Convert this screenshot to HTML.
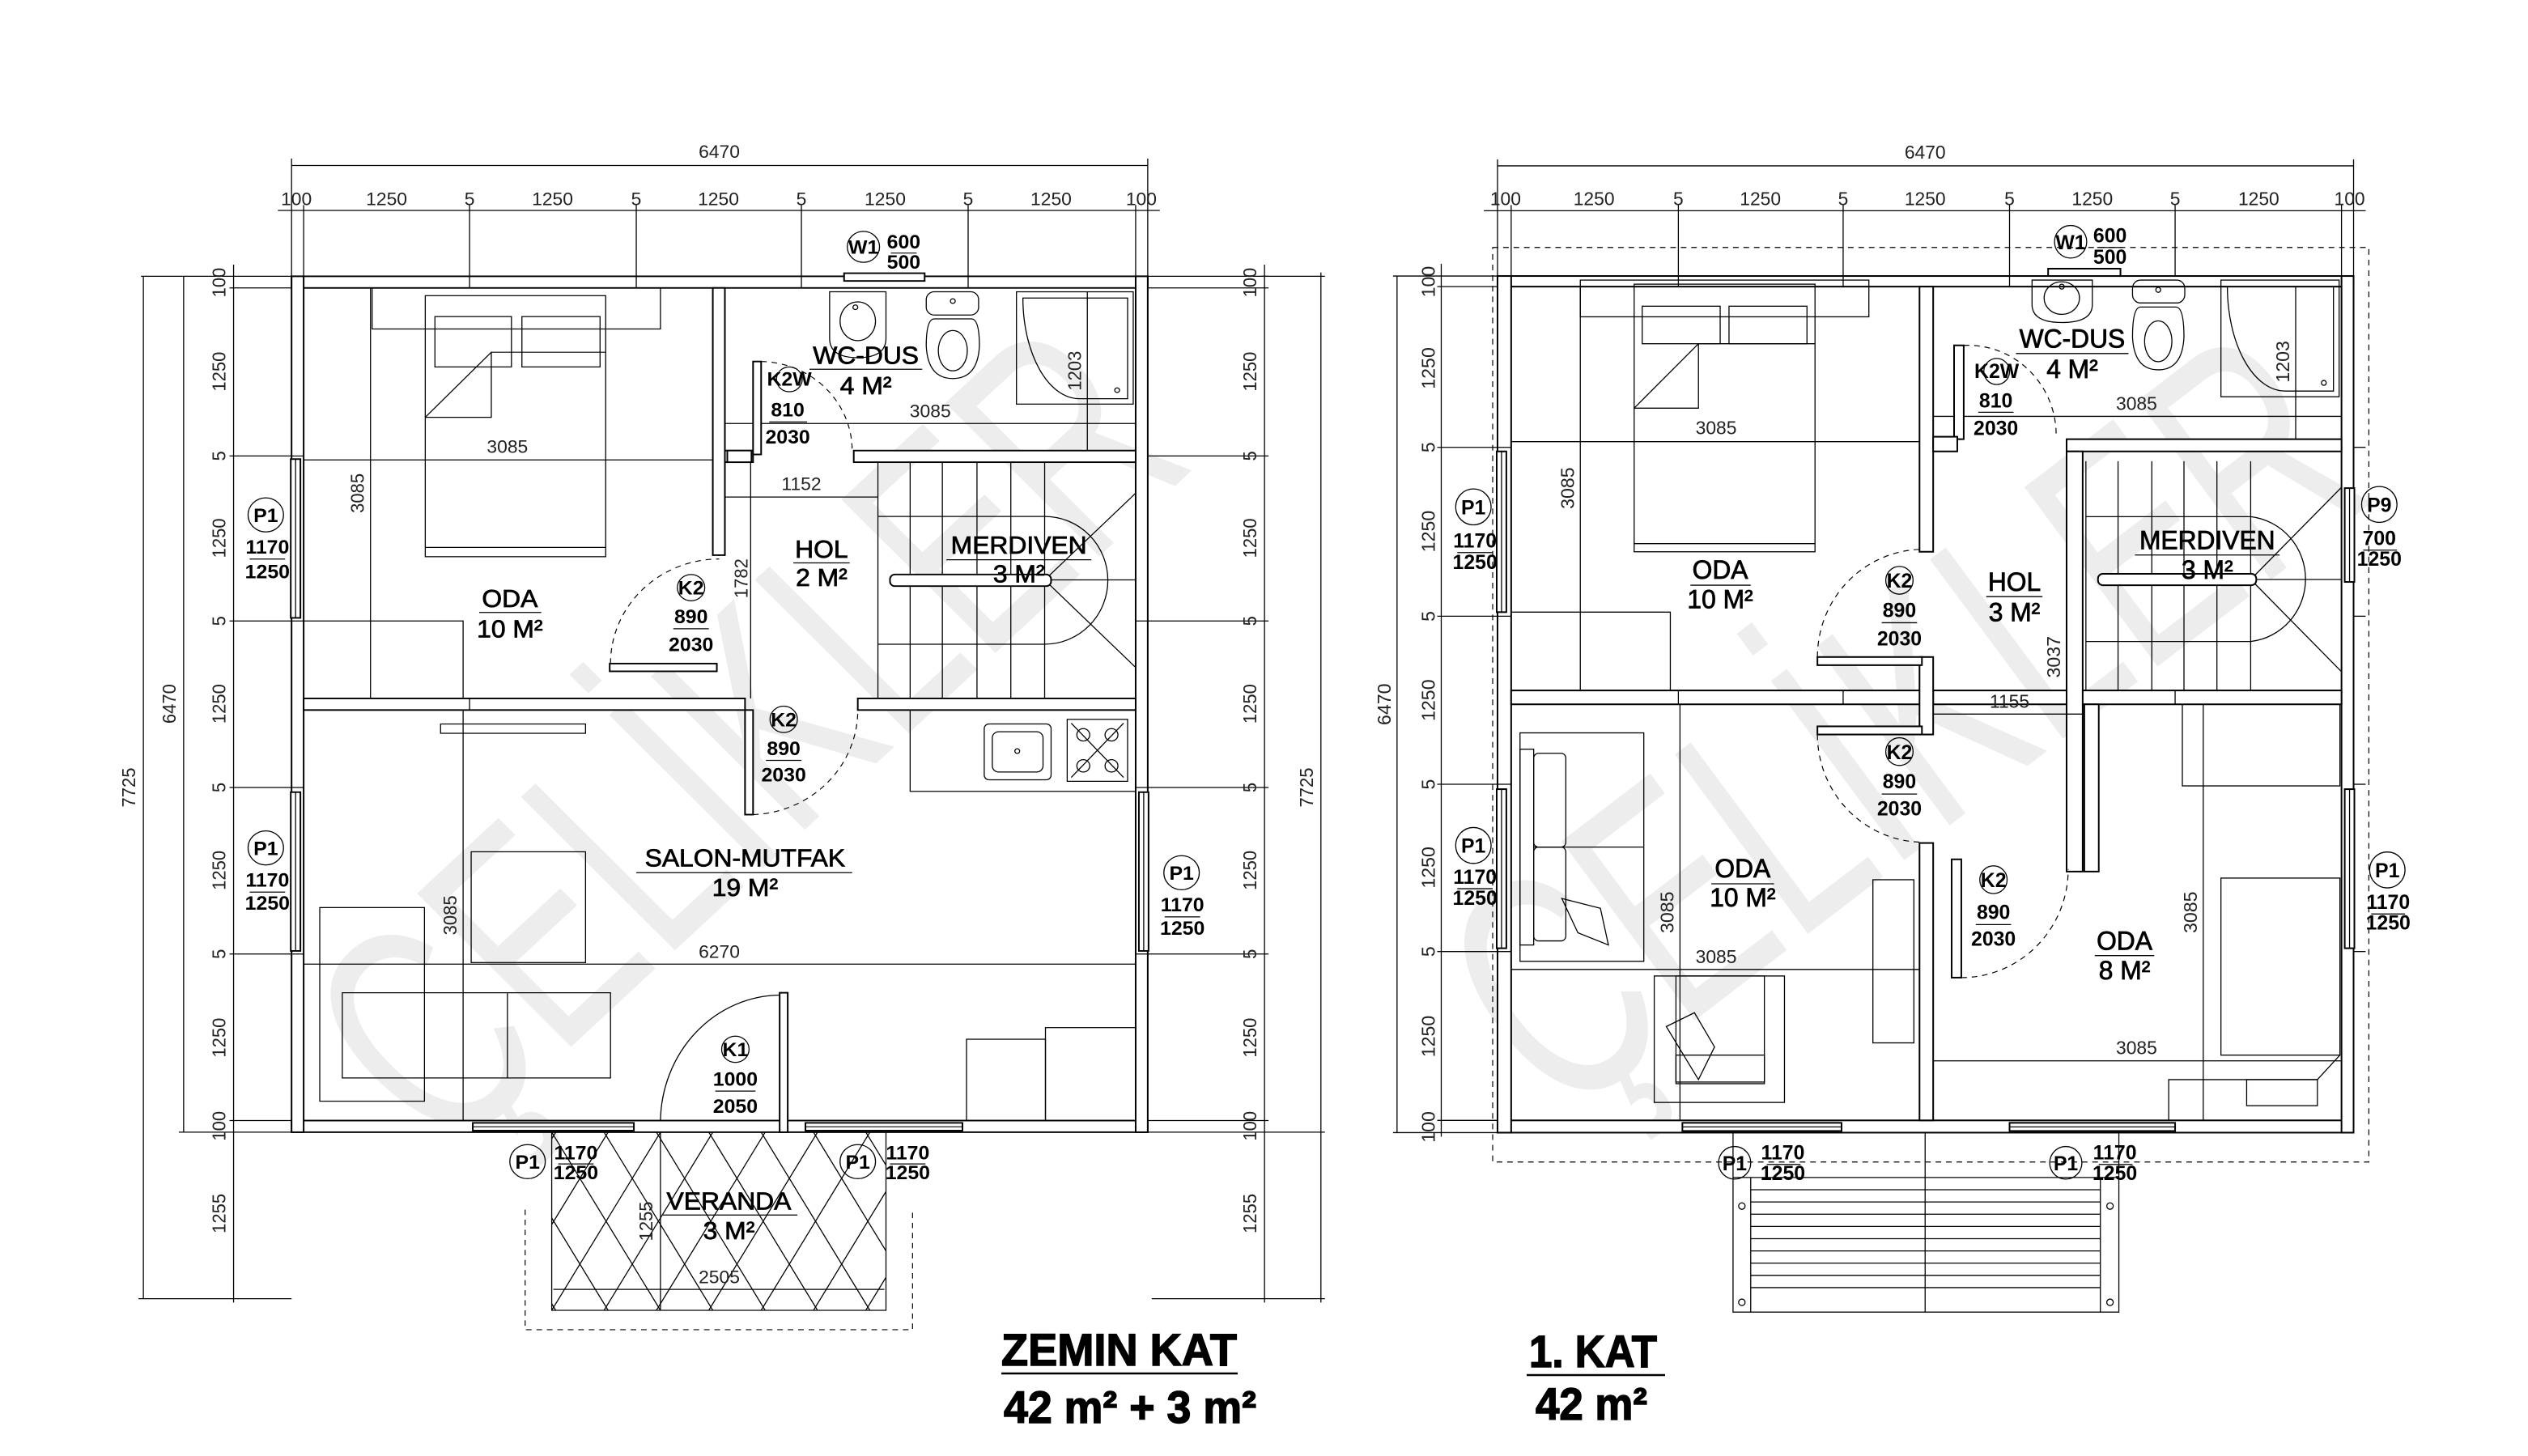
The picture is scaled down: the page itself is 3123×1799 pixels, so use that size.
<!DOCTYPE html>
<html><head><meta charset="utf-8">
<style>
html,body{margin:0;padding:0;background:#fff;}
svg{display:block;}
.l{stroke:#000;stroke-width:1.3;fill:none;}
.w{stroke:#000;stroke-width:2;fill:#fff;}
.d{stroke:#000;stroke-width:1.2;fill:none;stroke-dasharray:7 6;}
.dim{font-family:"Liberation Sans",sans-serif;font-size:23px;fill:#222;text-anchor:middle;font-weight:normal;}
.rm{font-family:"Liberation Sans",sans-serif;font-size:32px;fill:#000;text-anchor:middle;stroke:#000;stroke-width:0.8;}
.dl{font-family:"Liberation Sans Narrow","Liberation Sans",sans-serif;font-size:25px;fill:#000;text-anchor:middle;font-weight:bold;}
.wm{font-family:"Liberation Sans",sans-serif;font-size:400px;fill:#ededed;}
.ti{font-family:"Liberation Sans Narrow","Liberation Sans",sans-serif;font-weight:bold;fill:#000;stroke:#000;stroke-width:1.5;}
</style></head>
<body>
<svg width="3123" height="1799" viewBox="0 0 3123 1799" xmlns="http://www.w3.org/2000/svg">
<rect width="3123" height="1799" fill="#fff"/>

<!-- ================= LEFT PLAN (ZEMIN KAT) ================= -->
<g transform="translate(0,150) scale(0.995,0.957)">
 <text class="wm" transform="translate(925,794) rotate(-44)" text-anchor="middle" dominant-baseline="central" textLength="1300" lengthAdjust="spacingAndGlyphs">ÇELİKLER</text>

 <!-- top dims -->
 <line class="l" x1="362" y1="57" x2="1425" y2="57"/>
 <text class="dim" x="893" y="47">6470</text>
 <line class="l" x1="362" y1="48" x2="362" y2="215"/><line class="l" x1="1425" y1="48" x2="1425" y2="215"/>
 <line class="l" x1="345" y1="115" x2="1440" y2="115"/>
 <g class="l">
  <line x1="377" y1="108" x2="377" y2="215"/><line x1="583" y1="108" x2="583" y2="215"/><line x1="790" y1="108" x2="790" y2="215"/>
  <line x1="995" y1="108" x2="995" y2="215"/><line x1="1202" y1="108" x2="1202" y2="215"/><line x1="1410" y1="108" x2="1410" y2="215"/>
 </g>
 <g class="dim">
  <text x="368" y="108">100</text><text x="480" y="108">1250</text><text x="583" y="108">5</text><text x="686" y="108">1250</text>
  <text x="790" y="108">5</text><text x="892" y="108">1250</text><text x="995" y="108">5</text><text x="1099" y="108">1250</text>
  <text x="1202" y="108">5</text><text x="1305" y="108">1250</text><text x="1417" y="108">100</text>
 </g>
 <!-- left dims -->
 <g class="l">
  <line x1="175" y1="200" x2="362" y2="200"/><line x1="285" y1="215" x2="362" y2="215"/>
  <line x1="285" y1="432" x2="362" y2="432"/><line x1="285" y1="645" x2="362" y2="645"/>
  <line x1="285" y1="860" x2="362" y2="860"/><line x1="285" y1="1075" x2="362" y2="1075"/>
  <line x1="285" y1="1290" x2="362" y2="1290"/><line x1="222" y1="1305" x2="362" y2="1305"/>
  <line x1="172" y1="1520" x2="362" y2="1520"/>
  <line x1="290" y1="185" x2="290" y2="1525"/><line x1="228" y1="200" x2="228" y2="1305"/><line x1="178" y1="200" x2="178" y2="1520"/>
 </g>
 <g class="dim">
  <text transform="translate(280,208) rotate(-90)">100</text><text transform="translate(280,323) rotate(-90)">1250</text>
  <text transform="translate(280,432) rotate(-90)">5</text><text transform="translate(280,538) rotate(-90)">1250</text>
  <text transform="translate(280,645) rotate(-90)">5</text><text transform="translate(280,752) rotate(-90)">1250</text>
  <text transform="translate(280,860) rotate(-90)">5</text><text transform="translate(280,967) rotate(-90)">1250</text>
  <text transform="translate(280,1075) rotate(-90)">5</text><text transform="translate(280,1183) rotate(-90)">1250</text>
  <text transform="translate(280,1297) rotate(-90)">100</text><text transform="translate(280,1410) rotate(-90)">1255</text>
  <text transform="translate(218,752) rotate(-90)">6470</text><text transform="translate(168,860) rotate(-90)">7725</text>
 </g>
 <!-- right dims -->
 <g class="l">
  <line x1="1425" y1="200" x2="1575" y2="200"/><line x1="1425" y1="215" x2="1575" y2="215"/>
  <line x1="1425" y1="432" x2="1575" y2="432"/><line x1="1425" y1="645" x2="1575" y2="645"/>
  <line x1="1425" y1="860" x2="1575" y2="860"/><line x1="1425" y1="1075" x2="1575" y2="1075"/>
  <line x1="1425" y1="1290" x2="1575" y2="1290"/><line x1="1425" y1="1305" x2="1645" y2="1305"/>
  <line x1="1430" y1="1520" x2="1645" y2="1520"/>
  <line x1="1570" y1="185" x2="1570" y2="1525"/><line x1="1640" y1="195" x2="1640" y2="1525"/>
  <line x1="1565" y1="200" x2="1645" y2="200"/>
 </g>
 <g class="dim">
  <text transform="translate(1560,208) rotate(-90)">100</text><text transform="translate(1560,323) rotate(-90)">1250</text>
  <text transform="translate(1560,432) rotate(-90)">5</text><text transform="translate(1560,538) rotate(-90)">1250</text>
  <text transform="translate(1560,645) rotate(-90)">5</text><text transform="translate(1560,752) rotate(-90)">1250</text>
  <text transform="translate(1560,860) rotate(-90)">5</text><text transform="translate(1560,967) rotate(-90)">1250</text>
  <text transform="translate(1560,1075) rotate(-90)">5</text><text transform="translate(1560,1183) rotate(-90)">1250</text>
  <text transform="translate(1560,1297) rotate(-90)">100</text><text transform="translate(1560,1410) rotate(-90)">1255</text>
  <text transform="translate(1630,860) rotate(-90)">7725</text>
 </g>

 <!-- walls -->
 <rect class="w" x="362" y="200" width="1063" height="15"/>
 <rect class="w" x="362" y="1290" width="1063" height="15"/>
 <rect class="w" x="362" y="200" width="15" height="1105"/>
 <rect class="w" x="1410" y="200" width="15" height="1105"/>
 <rect class="w" x="377" y="745" width="548" height="15"/>
 <rect class="w" x="1065" y="745" width="345" height="15"/>
 <rect class="w" x="885" y="215" width="15" height="345"/>
 <rect class="w" x="900" y="425" width="35" height="15"/>
 <rect class="w" x="1060" y="425" width="350" height="15"/>
 <line class="l" x1="932" y1="440" x2="932" y2="745"/>
 <g class="l"><line x1="583" y1="200" x2="583" y2="215"/><line x1="790" y1="200" x2="790" y2="215"/><line x1="995" y1="200" x2="995" y2="215"/><line x1="1202" y1="200" x2="1202" y2="215"/>
 <line x1="583" y1="745" x2="583" y2="760"/><line x1="362" y1="432" x2="377" y2="432"/><line x1="362" y1="645" x2="377" y2="645"/><line x1="362" y1="860" x2="377" y2="860"/><line x1="362" y1="1075" x2="377" y2="1075"/><line x1="1410" y1="645" x2="1425" y2="645"/><line x1="1410" y1="860" x2="1425" y2="860"/><line x1="1410" y1="1075" x2="1425" y2="1075"/></g>

 <!-- windows -->
 <rect class="w" x="1048" y="196" width="100" height="10"/>
 <circle class="l" cx="1072" cy="162" r="20"/><text class="dl" x="1072" y="171">W1</text>
 <text class="dl" x="1122" y="164" font-size="20">600</text><line class="l" x1="1106" y1="170" x2="1138" y2="170"/><text class="dl" x="1122" y="190" font-size="20">500</text>
 <rect class="w" x="361" y="436" width="12" height="205"/><line class="l" x1="367" y1="436" x2="367" y2="641"/>
 <rect class="w" x="361" y="866" width="12" height="205"/><line class="l" x1="367" y1="866" x2="367" y2="1071"/>
 <rect class="w" x="1414" y="866" width="12" height="205"/><line class="l" x1="1420" y1="866" x2="1420" y2="1071"/>
 <rect class="w" x="587" y="1293" width="200" height="10"/><line class="l" x1="587" y1="1298" x2="787" y2="1298"/>
 <rect class="w" x="1000" y="1293" width="195" height="10"/><line class="l" x1="1000" y1="1298" x2="1195" y2="1298"/>
 <g>
  <circle class="l" cx="330" cy="508" r="22"/><text class="dl" x="330" y="517">P1</text><text class="dl" x="332" y="558">1170</text><line class="l" x1="310" y1="565" x2="354" y2="565"/><text class="dl" x="332" y="590">1250</text>
  <circle class="l" cx="330" cy="938" r="22"/><text class="dl" x="330" y="947">P1</text><text class="dl" x="332" y="988">1170</text><line class="l" x1="310" y1="995" x2="354" y2="995"/><text class="dl" x="332" y="1018">1250</text>
  <circle class="l" cx="1467" cy="970" r="22"/><text class="dl" x="1467" y="979">P1</text><text class="dl" x="1468" y="1020">1170</text><line class="l" x1="1446" y1="1027" x2="1490" y2="1027"/><text class="dl" x="1468" y="1050">1250</text>
  <circle class="l" cx="655" cy="1343" r="22"/><text class="dl" x="655" y="1352">P1</text><text class="dl" x="715" y="1340">1170</text><line class="l" x1="693" y1="1346" x2="737" y2="1346"/><text class="dl" x="715" y="1366">1250</text>
  <circle class="l" cx="1065" cy="1343" r="22"/><text class="dl" x="1065" y="1352">P1</text><text class="dl" x="1127" y="1340">1170</text><line class="l" x1="1105" y1="1346" x2="1149" y2="1346"/><text class="dl" x="1127" y="1366">1250</text>
 </g>

 <!-- ODA furniture -->
 <rect class="l" x="462" y="215" width="358" height="53"/>
 <rect class="l" x="528" y="225" width="224" height="337" fill="#fff"/>
 <line class="l" x1="528" y1="550" x2="752" y2="550"/>
 <rect class="l" x="540" y="252" width="95" height="65"/><rect class="l" x="648" y="252" width="97" height="65"/>
 <polyline class="l" points="528,382 610,382 610,298 752,298"/><line class="l" x1="528" y1="382" x2="610" y2="298"/>
 <polyline class="l" points="377,645 575,645 575,745"/>
 <line class="l" x1="377" y1="437" x2="885" y2="437"/><text class="dim" x="630" y="428">3085</text>
 <line class="l" x1="460" y1="215" x2="460" y2="745"/><text class="dim" transform="translate(452,480) rotate(-90)">3085</text>
 <text class="rm" x="633" y="627">ODA</text><line class="l" x1="595" y1="634" x2="672" y2="634"/><text class="rm" x="633" y="666">10 M²</text>

 <!-- WC -->
 <path class="l" d="M1030,220 H1100 V280 Q1100,305 1065,305 Q1030,305 1030,280 Z"/>
 <ellipse class="l" cx="1065" cy="258" rx="22" ry="25"/><circle class="l" cx="1062" cy="240" r="3"/>
 <rect class="l" x="1150" y="220" width="65" height="30" rx="10"/><circle class="l" cx="1183" cy="232" r="3"/>
 <path class="l" d="M1160,255 Q1150,255 1150,290 Q1152,332 1183,332 Q1214,332 1216,290 Q1216,255 1206,255 Z"/>
 <ellipse class="l" cx="1183" cy="296" rx="18" ry="26"/>
 <rect class="l" x="1262" y="220" width="145" height="145"/>
 <path class="l" d="M1270,228 H1400 V358 H1340 A70,130 0 0 1 1270,228 Z"/><circle class="l" cx="1387" cy="347" r="3"/>
 <line class="l" x1="1350" y1="220" x2="1350" y2="425"/><text class="dim" transform="translate(1342,322) rotate(-90)">1203</text>
 <line class="l" x1="900" y1="390" x2="1410" y2="390"/><text class="dim" x="1155" y="382">3085</text>
 <text class="rm" x="1075" y="313">WC-DUS</text><line class="l" x1="1005" y1="320" x2="1145" y2="320"/><text class="rm" x="1075" y="352">4 M²</text>
 <rect class="w" x="935" y="310" width="10" height="120"/>
 <path class="d" d="M945,310 A115,115 0 0 1 1058,425"/>
 <circle class="l" cx="980" cy="333" r="16"/><text class="dl" x="980" y="341" font-size="17">K2W</text>
 <text class="dl" x="978" y="381">810</text><line class="l" x1="955" y1="388" x2="1002" y2="388"/><text class="dl" x="978" y="416">2030</text>
 <rect class="w" x="903" y="425" width="30" height="15"/>
 <line class="l" x1="900" y1="485" x2="1090" y2="485"/><text class="dim" x="995" y="476">1152</text>
 <text class="dim" transform="translate(928,590) rotate(-90)">1782</text>
 <text class="rm" x="1020" y="563">HOL</text><line class="l" x1="985" y1="570" x2="1055" y2="570"/><text class="rm" x="1020" y="600">2 M²</text>

 <!-- stairs -->
 <g class="l">
  <line x1="1090" y1="440" x2="1090" y2="745"/>
  <line x1="1130" y1="440" x2="1130" y2="745"/><line x1="1170" y1="440" x2="1170" y2="745"/><line x1="1213" y1="440" x2="1213" y2="745"/><line x1="1255" y1="440" x2="1255" y2="745"/><line x1="1297" y1="440" x2="1297" y2="745"/>
  <line x1="1090" y1="510" x2="1297" y2="510"/><line x1="1090" y1="675" x2="1297" y2="675"/>
  <path d="M1297,510 A78,82 0 0 1 1297,675"/>
  <line x1="1297" y1="592" x2="1410" y2="480"/><line x1="1297" y1="592" x2="1410" y2="705"/><line x1="1305" y1="592" x2="1410" y2="592"/>
 </g>
 <rect class="w" x="1105" y="585" width="200" height="15" rx="6"/>
 <text class="rm" x="1265" y="558">MERDIVEN</text><line class="l" x1="1175" y1="566" x2="1355" y2="566"/><text class="rm" x="1265" y="595">3 M²</text>

 <!-- K2 doors -->
 <rect class="w" x="757" y="700" width="133" height="10"/>
 <path class="d" d="M758,700 A135,135 0 0 1 893,565"/>
 <circle class="l" cx="858" cy="602" r="17"/><text class="dl" x="858" y="611">K2</text>
 <text class="dl" x="858" y="648">890</text><line class="l" x1="836" y1="655" x2="880" y2="655"/><text class="dl" x="858" y="684">2030</text>
 <rect class="w" x="925" y="760" width="10" height="135"/>
 <path class="d" d="M935,895 A135,135 0 0 0 1065,760"/>
 <circle class="l" cx="973" cy="772" r="17"/><text class="dl" x="973" y="781">K2</text>
 <text class="dl" x="973" y="818">890</text><line class="l" x1="951" y1="825" x2="995" y2="825"/><text class="dl" x="973" y="852">2030</text>

 <!-- kitchen -->
 <rect class="l" x="1130" y="760" width="280" height="105"/>
 <rect class="l" x="1222" y="778" width="83" height="72" rx="6"/><rect class="l" x="1232" y="788" width="63" height="52" rx="8"/><circle class="l" cx="1263" cy="813" r="3"/>
 <rect class="l" x="1325" y="772" width="75" height="80"/>
 <g class="l"><circle cx="1345" cy="792" r="8"/><circle cx="1380" cy="792" r="8"/><circle cx="1345" cy="832" r="8"/><circle cx="1380" cy="832" r="8"/><line x1="1330" y1="777" x2="1395" y2="847"/><line x1="1395" y1="777" x2="1330" y2="847"/></g>
 <rect class="l" x="1200" y="1185" width="98" height="105"/><rect class="l" x="1298" y="1170" width="112" height="120"/>

 <!-- salon -->
 <rect class="l" x="547" y="778" width="180" height="12"/>
 <rect class="l" x="585" y="943" width="142" height="143"/>
 <line class="l" x1="575" y1="760" x2="575" y2="1290"/><text class="dim" transform="translate(567,1025) rotate(-90)">3085</text>
 <line class="l" x1="377" y1="1088" x2="1410" y2="1088"/><text class="dim" x="893" y="1080">6270</text>
 <rect class="l" x="397" y="1015" width="130" height="250" fill="#fff"/>
 <rect class="l" x="425" y="1125" width="333" height="110" fill="#fff"/><line class="l" x1="630" y1="1125" x2="630" y2="1235"/>
 <text class="rm" x="925" y="962">SALON-MUTFAK</text><line class="l" x1="790" y1="970" x2="1058" y2="970"/><text class="rm" x="925" y="1000">19 M²</text>
 <rect class="w" x="968" y="1125" width="10" height="180"/>
 <path class="l" d="M968,1128 A150,165 0 0 0 820,1290"/>
 <circle class="l" cx="913" cy="1198" r="17"/><text class="dl" x="913" y="1207">K1</text>
 <text class="dl" x="913" y="1245">1000</text><line class="l" x1="888" y1="1252" x2="938" y2="1252"/><text class="dl" x="913" y="1280">2050</text>

 <!-- veranda -->
 <clipPath id="vc"><rect x="685" y="1305" width="415" height="230"/></clipPath>
 <g clip-path="url(#vc)" class="l" stroke-width="1">
  <line x1="555" y1="1535" x2="690" y2="1305"/><line x1="620" y1="1535" x2="755" y2="1305"/><line x1="685" y1="1535" x2="820" y2="1305"/><line x1="750" y1="1535" x2="885" y2="1305"/><line x1="815" y1="1535" x2="950" y2="1305"/><line x1="880" y1="1535" x2="1015" y2="1305"/><line x1="945" y1="1535" x2="1080" y2="1305"/><line x1="1010" y1="1535" x2="1145" y2="1305"/><line x1="1075" y1="1535" x2="1210" y2="1305"/>
  <line x1="555" y1="1305" x2="690" y2="1535"/><line x1="620" y1="1305" x2="755" y2="1535"/><line x1="685" y1="1305" x2="820" y2="1535"/><line x1="750" y1="1305" x2="885" y2="1535"/><line x1="815" y1="1305" x2="950" y2="1535"/><line x1="880" y1="1305" x2="1015" y2="1535"/><line x1="945" y1="1305" x2="1080" y2="1535"/><line x1="1010" y1="1305" x2="1145" y2="1535"/><line x1="1075" y1="1305" x2="1210" y2="1535"/>
 </g>
 <rect class="l" x="685" y="1305" width="415" height="230"/>
 <line class="l" x1="820" y1="1305" x2="820" y2="1535"/>
 <polyline class="d" points="652,1405 652,1560 1133,1560 1133,1405"/>
 <line class="l" x1="687" y1="1508" x2="1098" y2="1508"/><text class="dim" x="893" y="1500">2505</text>
 <text class="dim" transform="translate(810,1420) rotate(-90)">1255</text>
 <text class="rm" x="905" y="1405">VERANDA</text><line class="l" x1="823" y1="1412" x2="990" y2="1412"/><text class="rm" x="905" y="1443">3 M²</text>
</g>

<!-- ================= RIGHT PLAN (1. KAT) ================= -->
<g transform="matrix(0.993,0,0,1.008,1562,134.4)">
 <text class="wm" transform="translate(793,750) rotate(-37)" text-anchor="middle" dominant-baseline="central" textLength="1280" lengthAdjust="spacingAndGlyphs">ÇELİKLER</text>
 <rect class="d" x="284" y="170" width="1090" height="1121"/>
 <!-- top dims -->
 <line class="l" x1="290" y1="70" x2="1355" y2="70"/><text class="dim" x="822" y="61">6470</text>
 <line class="l" x1="290" y1="62" x2="290" y2="218"/><line class="l" x1="1355" y1="62" x2="1355" y2="218"/>
 <line class="l" x1="273" y1="125" x2="1370" y2="125"/>
 <g class="l"><line x1="307" y1="118" x2="307" y2="218"/><line x1="515" y1="118" x2="515" y2="218"/><line x1="720" y1="118" x2="720" y2="218"/><line x1="927" y1="118" x2="927" y2="218"/><line x1="1133" y1="118" x2="1133" y2="218"/><line x1="1340" y1="118" x2="1340" y2="218"/></g>
 <g class="dim">
  <text x="300" y="118">100</text><text x="410" y="118">1250</text><text x="515" y="118">5</text><text x="617" y="118">1250</text>
  <text x="720" y="118">5</text><text x="822" y="118">1250</text><text x="927" y="118">5</text><text x="1030" y="118">1250</text>
  <text x="1133" y="118">5</text><text x="1237" y="118">1250</text><text x="1350" y="118">100</text>
 </g>
 <!-- left dims -->
 <g class="l">
  <line x1="160" y1="205" x2="290" y2="205"/><line x1="215" y1="218" x2="290" y2="218"/>
  <line x1="215" y1="415" x2="290" y2="415"/><line x1="215" y1="622" x2="290" y2="622"/>
  <line x1="215" y1="828" x2="290" y2="828"/><line x1="215" y1="1033" x2="290" y2="1033"/>
  <line x1="215" y1="1240" x2="290" y2="1240"/><line x1="160" y1="1255" x2="290" y2="1255"/>
  <line x1="220" y1="190" x2="220" y2="1260"/><line x1="165" y1="205" x2="165" y2="1255"/>
 </g>
 <g class="dim">
  <text transform="translate(212,212) rotate(-90)">100</text><text transform="translate(212,318) rotate(-90)">1250</text>
  <text transform="translate(212,415) rotate(-90)">5</text><text transform="translate(212,518) rotate(-90)">1250</text>
  <text transform="translate(212,622) rotate(-90)">5</text><text transform="translate(212,725) rotate(-90)">1250</text>
  <text transform="translate(212,828) rotate(-90)">5</text><text transform="translate(212,930) rotate(-90)">1250</text>
  <text transform="translate(212,1033) rotate(-90)">5</text><text transform="translate(212,1137) rotate(-90)">1250</text>
  <text transform="translate(212,1248) rotate(-90)">100</text>
  <text transform="translate(157,730) rotate(-90)">6470</text>
 </g>
 <g class="l"><line x1="1355" y1="415" x2="1370" y2="415"/><line x1="1355" y1="622" x2="1370" y2="622"/><line x1="1355" y1="828" x2="1370" y2="828"/><line x1="1355" y1="1033" x2="1370" y2="1033"/></g>

 <!-- walls -->
 <rect class="w" x="290" y="205" width="1065" height="13"/>
 <rect class="w" x="290" y="1240" width="1065" height="15"/>
 <rect class="w" x="290" y="205" width="17" height="1050"/>
 <rect class="w" x="1340" y="205" width="15" height="1050"/>
 <rect class="w" x="307" y="713" width="513" height="17"/>
 <rect class="w" x="832" y="713" width="508" height="17"/>
 <rect class="w" x="815" y="218" width="17" height="325"/>
 <rect class="w" x="815" y="900" width="17" height="340"/>
 <rect class="w" x="815" y="672" width="17" height="95"/>
 <rect class="w" x="998" y="405" width="342" height="15"/>
 <rect class="w" x="998" y="420" width="20" height="515"/>
 <rect class="w" x="1020" y="730" width="18" height="205"/>
 <g class="l"><line x1="515" y1="205" x2="515" y2="218"/><line x1="720" y1="205" x2="720" y2="218"/><line x1="927" y1="205" x2="927" y2="218"/><line x1="515" y1="713" x2="515" y2="730"/><line x1="720" y1="713" x2="720" y2="730"/><line x1="1133" y1="713" x2="1133" y2="730"/><line x1="290" y1="415" x2="307" y2="415"/><line x1="290" y1="622" x2="307" y2="622"/><line x1="290" y1="828" x2="307" y2="828"/><line x1="290" y1="1033" x2="307" y2="1033"/></g>

 <!-- windows -->
 <rect class="w" x="975" y="196" width="90" height="9"/>
 <circle class="l" cx="1003" cy="163" r="20"/><text class="dl" x="1003" y="172">W1</text>
 <text class="dl" x="1052" y="164" font-size="20">600</text><line class="l" x1="1036" y1="170" x2="1068" y2="170"/><text class="dl" x="1052" y="190" font-size="20">500</text>
 <rect class="w" x="289" y="420" width="12" height="197"/><line class="l" x1="295" y1="420" x2="295" y2="617"/>
 <rect class="w" x="289" y="834" width="12" height="195"/><line class="l" x1="295" y1="834" x2="295" y2="1029"/>
 <rect class="w" x="1344" y="465" width="12" height="115"/><line class="l" x1="1350" y1="465" x2="1350" y2="580"/>
 <rect class="w" x="1344" y="834" width="12" height="195"/><line class="l" x1="1350" y1="834" x2="1350" y2="1029"/>
 <rect class="w" x="520" y="1243" width="198" height="10"/><line class="l" x1="520" y1="1248" x2="718" y2="1248"/>
 <rect class="w" x="927" y="1243" width="206" height="10"/><line class="l" x1="927" y1="1248" x2="1133" y2="1248"/>
 <circle class="l" cx="260" cy="488" r="22"/><text class="dl" x="260" y="497">P1</text><text class="dl" x="262" y="538">1170</text><line class="l" x1="240" y1="544" x2="284" y2="544"/><text class="dl" x="262" y="564">1250</text>
 <circle class="l" cx="260" cy="903" r="22"/><text class="dl" x="260" y="912">P1</text><text class="dl" x="262" y="950">1170</text><line class="l" x1="240" y1="956" x2="284" y2="956"/><text class="dl" x="262" y="976">1250</text>
 <circle class="l" cx="1387" cy="485" r="22"/><text class="dl" x="1387" y="494">P9</text><text class="dl" x="1387" y="535">700</text><line class="l" x1="1367" y1="541" x2="1409" y2="541"/><text class="dl" x="1387" y="560">1250</text>
 <circle class="l" cx="1397" cy="933" r="22"/><text class="dl" x="1397" y="942">P1</text><text class="dl" x="1398" y="981">1170</text><line class="l" x1="1377" y1="987" x2="1419" y2="987"/><text class="dl" x="1398" y="1006">1250</text>
 <circle class="l" cx="585" cy="1292" r="20"/><text class="dl" x="585" y="1301">P1</text><text class="dl" x="645" y="1288">1170</text><line class="l" x1="625" y1="1294" x2="667" y2="1294"/><text class="dl" x="645" y="1313">1250</text>
 <circle class="l" cx="997" cy="1292" r="20"/><text class="dl" x="997" y="1301">P1</text><text class="dl" x="1058" y="1288">1170</text><line class="l" x1="1038" y1="1294" x2="1080" y2="1294"/><text class="dl" x="1058" y="1313">1250</text>

 <!-- upper ODA -->
 <rect class="l" x="393" y="210" width="359" height="45"/>
 <rect class="l" x="460" y="215" width="225" height="328" fill="#fff"/><line class="l" x1="460" y1="533" x2="685" y2="533"/>
 <rect class="l" x="470" y="242" width="97" height="46"/><rect class="l" x="578" y="242" width="97" height="46"/>
 <polyline class="l" points="460,367 540,367 540,288 685,288"/><line class="l" x1="460" y1="367" x2="540" y2="288"/>
 <polyline class="l" points="307,617 505,617 505,713"/>
 <line class="l" x1="307" y1="408" x2="815" y2="408"/><text class="dim" x="562" y="399">3085</text>
 <line class="l" x1="393" y1="218" x2="393" y2="713"/><text class="dim" transform="translate(385,465) rotate(-90)">3085</text>
 <text class="rm" x="567" y="576">ODA</text><line class="l" x1="530" y1="584" x2="605" y2="584"/><text class="rm" x="567" y="612">10 M²</text>

 <!-- WC -->
 <path class="l" d="M955,210 H1030 V240 Q1030,262 992,262 Q955,262 955,240 Z"/><ellipse class="l" cx="992" cy="232" rx="22" ry="20"/><circle class="l" cx="992" cy="218" r="3"/>
 <rect class="l" x="1080" y="210" width="65" height="28" rx="10"/><circle class="l" cx="1112" cy="222" r="3"/>
 <path class="l" d="M1090,243 Q1080,243 1080,280 Q1082,320 1112,320 Q1142,320 1144,280 Q1144,243 1134,243 Z"/><ellipse class="l" cx="1112" cy="285" rx="17" ry="25"/>
 <rect class="l" x="1190" y="210" width="147" height="143"/>
 <path class="l" d="M1198,218 H1330 V346 H1270 A72,128 0 0 1 1198,218 Z"/><circle class="l" cx="1318" cy="336" r="3"/>
 <line class="l" x1="1283" y1="218" x2="1283" y2="405"/><text class="dim" transform="translate(1275,310) rotate(-90)">1203</text>
 <line class="l" x1="832" y1="377" x2="1340" y2="377"/><text class="dim" x="1085" y="369">3085</text>
 <text class="rm" x="1005" y="293">WC-DUS</text><line class="l" x1="935" y1="300" x2="1075" y2="300"/><text class="rm" x="1005" y="330">4 M²</text>
 <rect class="w" x="858" y="290" width="12" height="115"/>
 <path class="d" d="M870,290 A110,110 0 0 1 985,398"/>
 <rect class="w" x="832" y="402" width="30" height="18"/>
 <circle class="l" cx="911" cy="322" r="16"/><text class="dl" x="911" y="330" font-size="17">K2W</text>
 <text class="dl" x="910" y="366">810</text><line class="l" x1="888" y1="372" x2="932" y2="372"/><text class="dl" x="910" y="400">2030</text>

 <!-- hol -->
 <text class="rm" x="933" y="591">HOL</text><line class="l" x1="898" y1="598" x2="968" y2="598"/><text class="rm" x="933" y="628">3 M²</text>
 <line class="l" x1="832" y1="742" x2="1020" y2="742"/><text class="dim" x="927" y="734">1155</text>
 <text class="dim" transform="translate(990,672) rotate(-90)">3037</text>
 <rect class="w" x="688" y="672" width="130" height="10"/>
 <path class="d" d="M688,672 A132,132 0 0 1 820,540"/>
 <circle class="l" cx="790" cy="578" r="17"/><text class="dl" x="790" y="587">K2</text>
 <text class="dl" x="790" y="623">890</text><line class="l" x1="768" y1="630" x2="812" y2="630"/><text class="dl" x="790" y="658">2030</text>
 <rect class="w" x="688" y="757" width="130" height="10"/>
 <path class="d" d="M688,767 A132,132 0 0 0 820,899"/>
 <circle class="l" cx="790" cy="788" r="17"/><text class="dl" x="790" y="797">K2</text>
 <text class="dl" x="790" y="833">890</text><line class="l" x1="768" y1="840" x2="812" y2="840"/><text class="dl" x="790" y="866">2030</text>
 <rect class="w" x="855" y="920" width="12" height="145"/>
 <path class="d" d="M867,1065 A133,133 0 0 0 1000,932"/>
 <circle class="l" cx="907" cy="945" r="17"/><text class="dl" x="907" y="954">K2</text>
 <text class="dl" x="907" y="993">890</text><line class="l" x1="885" y1="1000" x2="929" y2="1000"/><text class="dl" x="907" y="1026">2030</text>

 <!-- stairs -->
 <g class="l">
  <line x1="1022" y1="432" x2="1022" y2="713"/>
  <line x1="1062" y1="432" x2="1062" y2="713"/><line x1="1104" y1="432" x2="1104" y2="713"/><line x1="1144" y1="432" x2="1144" y2="713"/><line x1="1185" y1="432" x2="1185" y2="713"/><line x1="1227" y1="432" x2="1227" y2="713"/>
  <line x1="1022" y1="500" x2="1227" y2="500"/><line x1="1022" y1="653" x2="1227" y2="653"/>
  <path d="M1227,500 A77,77 0 0 1 1227,653"/>
  <line x1="1227" y1="577" x2="1340" y2="464"/><line x1="1227" y1="577" x2="1340" y2="690"/><line x1="1235" y1="577" x2="1340" y2="577"/>
 </g>
 <rect class="w" x="1037" y="570" width="197" height="14" rx="6"/>
 <text class="rm" x="1173" y="540">MERDIVEN</text><line class="l" x1="1083" y1="547" x2="1263" y2="547"/><text class="rm" x="1173" y="576">3 M²</text>

 <!-- lower ODA -->
 <rect class="l" x="318" y="765" width="154" height="280"/>
 <rect class="l" x="318" y="785" width="17" height="240"/>
 <rect class="l" x="335" y="790" width="40" height="115" rx="6"/><rect class="l" x="335" y="905" width="40" height="115" rx="6"/>
 <line class="l" x1="335" y1="905" x2="472" y2="905"/>
 <path class="l" d="M370,968 L418,980 L428,1025 L390,1010 Z"/>
 <rect class="l" x="485" y="1063" width="162" height="155"/><rect class="l" x="512" y="1063" width="110" height="130"/>
 <rect class="l" x="512" y="1160" width="110" height="35"/>
 <path class="l" d="M500,1125 L535,1108 L560,1150 L540,1190 Z"/>
 <rect class="l" x="757" y="945" width="51" height="200"/>
 <line class="l" x1="307" y1="1055" x2="815" y2="1055"/><text class="dim" x="562" y="1047">3085</text>
 <line class="l" x1="517" y1="730" x2="517" y2="1240"/><text class="dim" transform="translate(509,985) rotate(-90)">3085</text>
 <text class="rm" x="595" y="942">ODA</text><line class="l" x1="556" y1="950" x2="634" y2="950"/><text class="rm" x="595" y="978">10 M²</text>

 <!-- ODA 8 -->
 <rect class="l" x="1142" y="730" width="196" height="100"/>
 <rect class="l" x="1190" y="943" width="148" height="217"/>
 <polyline class="l" points="1125,1240 1125,1190 1310,1190 1338,1160"/>
 <rect class="l" x="1222" y="1190" width="88" height="32"/>
 <line class="l" x1="832" y1="1167" x2="1340" y2="1167"/><text class="dim" x="1085" y="1159">3085</text>
 <line class="l" x1="1168" y1="730" x2="1168" y2="1240"/><text class="dim" transform="translate(1160,985) rotate(-90)">3085</text>
 <text class="rm" x="1070" y="1031">ODA</text><line class="l" x1="1033" y1="1038" x2="1107" y2="1038"/><text class="rm" x="1070" y="1067">8 M²</text>

 <!-- front stair -->
 <rect class="l" x="583" y="1255" width="480" height="220" fill="#fff"/>
 <line class="l" x1="583" y1="1310" x2="1063" y2="1310"/>
 <line class="l" x1="605" y1="1310" x2="605" y2="1475"/><line class="l" x1="1040" y1="1310" x2="1040" y2="1475"/>
 <line class="l" x1="822" y1="1255" x2="822" y2="1475"/>
 <g class="l">
  <line x1="605" y1="1325" x2="1040" y2="1325"/><line x1="605" y1="1340" x2="1040" y2="1340"/><line x1="605" y1="1355" x2="1040" y2="1355"/><line x1="605" y1="1370" x2="1040" y2="1370"/><line x1="605" y1="1385" x2="1040" y2="1385"/><line x1="605" y1="1400" x2="1040" y2="1400"/><line x1="605" y1="1415" x2="1040" y2="1415"/><line x1="605" y1="1430" x2="1040" y2="1430"/><line x1="605" y1="1445" x2="1040" y2="1445"/>
  <circle cx="594" cy="1463" r="4"/><circle cx="1052" cy="1463" r="4"/><circle cx="594" cy="1345" r="4"/><circle cx="1052" cy="1345" r="4"/>
 </g>
</g>

<!-- titles -->
<text class="ti" x="1237" y="1687" font-size="56" textLength="291" lengthAdjust="spacingAndGlyphs">ZEMIN KAT</text>
<line x1="1237" y1="1697" x2="1529" y2="1697" stroke="#000" stroke-width="2.5"/>
<text class="ti" x="1240" y="1758" font-size="56" textLength="312" lengthAdjust="spacingAndGlyphs">42 m² + 3 m²</text>
<text class="ti" x="1889" y="1689" font-size="56" textLength="158" lengthAdjust="spacingAndGlyphs">1. KAT</text>
<line x1="1886" y1="1699" x2="2057" y2="1699" stroke="#000" stroke-width="2.5"/>
<text class="ti" x="1897" y="1754" font-size="56" textLength="138" lengthAdjust="spacingAndGlyphs">42 m²</text>
</svg>
</body></html>
